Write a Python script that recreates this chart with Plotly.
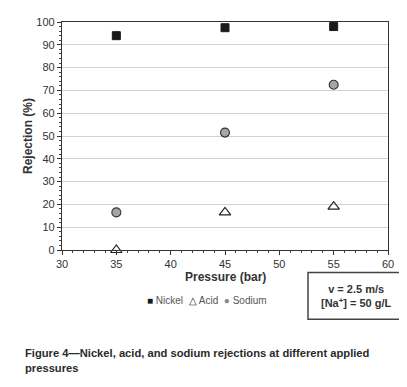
import plotly.graph_objects as go

pressure = [35, 45, 55]
nickel = [94, 97.5, 98]
acid = [0, 16.5, 19]
sodium = [16.5, 51.5, 72.5]

# page body adds an 8px margin; lay out in window pixels and convert
OFF = 8
W, H = 407 - OFF, 387 - OFF
PL, PR, PT, PB = 62, 388, 16, 250  # plot area in window pixels
L, R, T, B = PL - OFF, W - (PR - OFF), PT - OFF, H - (PB - OFF)


def px(x):
    return (x - PL) / (PR - PL)


def py(y):
    return (PB - y) / (PB - PT)


FONT = "Liberation Sans, Arial, sans-serif"

fig = go.Figure()
fig.add_trace(go.Scatter(x=pressure, y=nickel, mode="markers", name="Nickel",
                         marker=dict(symbol="square", size=8, color="#1a1a1a",
                                     line=dict(color="#1a1a1a", width=1)),
                         cliponaxis=False))
fig.add_trace(go.Scatter(x=pressure, y=acid, mode="markers", name="Acid",
                         marker=dict(symbol="triangle-up-open", size=10, color="#222222",
                                     line=dict(width=1.2)),
                         cliponaxis=False))
fig.add_trace(go.Scatter(x=pressure, y=sodium, mode="markers", name="Sodium",
                         marker=dict(symbol="circle", size=9, color="#a6a6a6",
                                     line=dict(color="#333333", width=1.1)),
                         cliponaxis=False))

axis_common = dict(showline=True, linecolor="#333333", linewidth=1.2, mirror=True,
                   ticks="outside", ticklen=4, tickcolor="#333333",
                   tickfont=dict(family=FONT, size=11, color="#333333"),
                   zeroline=False)

fig.update_xaxes(range=[30, 60], dtick=5, showgrid=False,
                 minor=dict(dtick=1, ticks="outside", ticklen=2, tickcolor="#444444"),
                 **axis_common)
fig.update_yaxes(range=[0, 100], dtick=10, showgrid=True, gridcolor="#d2d2d2", gridwidth=1,
                 minor=dict(dtick=2, ticks="outside", ticklen=2, tickcolor="#444444", showgrid=False),
                 **axis_common)

# axis titles
fig.add_annotation(xref="paper", yref="paper", xanchor="center", yanchor="middle",
                   x=px(225), y=py(278), text="<b>Pressure (bar)</b>", showarrow=False,
                   font=dict(family=FONT, size=12, color="#333333"))
fig.add_annotation(xref="paper", yref="paper", xanchor="center", yanchor="middle",
                   x=px(28), y=py(133), text="<b>Rejection (%)</b>", showarrow=False,
                   textangle=-90, font=dict(family=FONT, size=12, color="#333333"))

# condition box
fig.add_shape(type="rect", xref="paper", yref="paper",
              x0=px(308), x1=px(405), y0=py(321), y1=py(273),
              line=dict(color="#444444", width=1.5), fillcolor="white")
fig.add_annotation(xref="paper", yref="paper", xanchor="center", yanchor="middle",
                   x=px(356.5), y=py(297),
                   text="<b>v = 2.5 m/s<br>[Na<sup>+</sup>] = 50 g/L</b>",
                   showarrow=False, align="center",
                   font=dict(family=FONT, size=11, color="#333333"))

# legend keys
legend_text = ('<span style="color:#1a1a1a">■</span> Nickel  '
               '<span style="color:#1a1a1a">△</span> Acid  '
               '<span style="color:#8a8a8a">●</span> Sodium')
fig.add_annotation(xref="paper", yref="paper", xanchor="center", yanchor="middle",
                   x=px(207), y=py(302), text=legend_text, showarrow=False,
                   font=dict(family=FONT, size=10, color="#555555"))

# caption
fig.add_annotation(xref="paper", yref="paper", xanchor="left", yanchor="top",
                   x=px(23), y=py(348),
                   text="<b>Figure 4\u2014Nickel, acid, and sodium rejections at different applied<br>pressures</b>",
                   showarrow=False, align="left",
                   font=dict(family=FONT, size=11.2, color="#2a2a2a"))

fig.update_layout(
    width=W, height=H,
    margin=dict(l=L, r=R, t=T, b=B),
    paper_bgcolor="white", plot_bgcolor="white",
    showlegend=False,
)

fig.write_html("out.html")
